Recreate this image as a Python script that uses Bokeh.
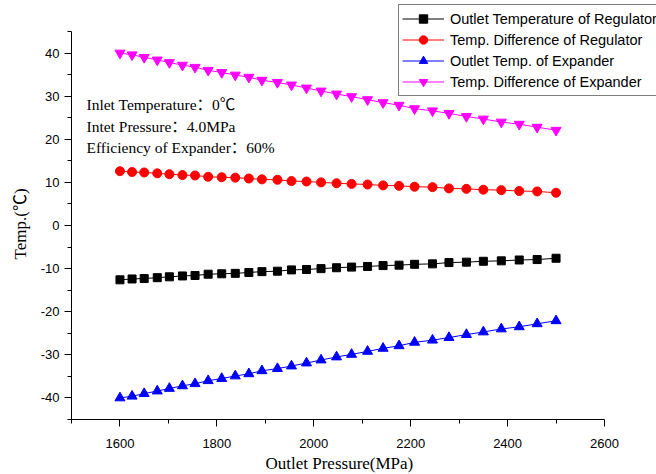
from bokeh.plotting import figure
from bokeh.models import Range1d, FixedTicker, Label, Legend, LegendItem, Title
from bokeh.embed import file_html
from bokeh.resources import INLINE

# ---- data ----
pressure = [1600, 1625, 1650, 1677, 1702, 1729, 1755, 1782, 1810, 1838,
            1866, 1893, 1925, 1954, 1985, 2015, 2047, 2078, 2111, 2143,
            2176, 2208, 2245, 2279, 2315, 2350, 2387, 2424, 2461, 2500]

outlet_temp_regulator = [-12.6, -12.4, -12.3, -12.1, -11.9, -11.7, -11.6, -11.3, -11.2, -11.1,
                         -10.9, -10.7, -10.6, -10.3, -10.2, -10.0, -9.8, -9.65, -9.5, -9.3,
                         -9.2, -9.0, -8.9, -8.6, -8.5, -8.3, -8.2, -8.0, -7.9, -7.6]

temp_diff_regulator = [12.6, 12.4, 12.3, 12.1, 11.9, 11.7, 11.6, 11.3, 11.2, 11.1,
                       10.9, 10.7, 10.6, 10.3, 10.2, 10.0, 9.8, 9.65, 9.5, 9.3,
                       9.2, 9.0, 8.9, 8.6, 8.5, 8.3, 8.2, 8.0, 7.9, 7.6]

outlet_temp_expander = [-40.0, -39.6, -39.0, -38.4, -37.8, -37.2, -36.7, -36.0, -35.5, -34.9,
                        -34.4, -33.7, -33.2, -32.6, -31.9, -31.2, -30.5, -29.9, -29.2, -28.5,
                        -27.9, -27.1, -26.6, -26.0, -25.3, -24.7, -24.0, -23.5, -22.8, -22.1]

temp_diff_expander = [40.0, 39.6, 39.0, 38.4, 37.8, 37.2, 36.7, 36.0, 35.5, 34.9,
                      34.4, 33.7, 33.2, 32.6, 31.9, 31.2, 30.5, 29.9, 29.2, 28.5,
                      27.9, 27.1, 26.6, 26.0, 25.3, 24.7, 24.0, 23.5, 22.8, 22.1]

series_names = ["Outlet Temperature of Regulator", "Temp. Difference of Regulator",
                "Outlet Temp. of Expander", "Temp. Difference of Expander"]

x_major = [1600, 1800, 2000, 2200, 2400, 2600]
x_minor = [1500, 1700, 1900, 2100, 2300, 2500]
y_major = [-40, -30, -20, -10, 0, 10, 20, 30, 40]
y_minor = [-45, -35, -25, -15, -5, 5, 15, 25, 35, 45]

notes = ["Inlet Temperature：0℃", "Intet Pressure：4.0MPa", "Efficiency of Expander：60%"]
x_title = "Outlet Pressure(MPa)"
y_title = "Temp.(℃)"

SERIF = "'Liberation Serif', 'Noto Sans CJK SC'"

# ---- figure ----
LEFT, BOTTOM = 71, 55
p = figure(width=656, height=474, output_backend="svg", toolbar_location=None,
           x_range=Range1d(1500, 2707.3), y_range=Range1d(-45, 52.19),
           min_border_left=LEFT, min_border_right=0, min_border_top=0,
           min_border_bottom=BOTTOM)
p.outline_line_color = None
p.xgrid.visible = False
p.ygrid.visible = False
p.background_fill_color = "white"
p.border_fill_color = "white"

for ax, maj, mn, bnds in ((p.xaxis[0], x_major, x_minor, (1500, 2600)),
                          (p.yaxis[0], y_major, y_minor, (-45, 45))):
    ax.ticker = FixedTicker(ticks=maj, minor_ticks=mn)
    ax.bounds = bnds
    ax.axis_line_color = "black"
    ax.axis_line_width = 1
    ax.major_tick_line_color = "black"
    ax.minor_tick_line_color = "black"
    ax.major_tick_in = 0
    ax.major_tick_out = 7
    ax.minor_tick_in = 0
    ax.minor_tick_out = 4
    ax.major_label_text_font = "Liberation Sans"
    ax.major_label_text_font_size = "13px"
    ax.major_label_text_color = "black"
    ax.major_label_overrides = {v: str(v) for v in maj}
p.xaxis.major_label_standoff = 12
p.yaxis.major_label_standoff = 5

specs = [
    (outlet_temp_regulator, "black", "square", 8),
    (temp_diff_regulator, "red", "circle", 9),
    (outlet_temp_expander, "blue", "triangle", 10),
    (temp_diff_expander, "magenta", "inverted_triangle", 10),
]
items = []
for (ys, col, mk, sz), name in zip(specs, series_names):
    lr = p.line(pressure, ys, line_color=col, line_width=1)
    sr = p.scatter(pressure, ys, marker=mk, size=sz, fill_color=col, line_color=col)
    items.append(LegendItem(label=name, renderers=[lr, sr]))

legend = Legend(items=items, location=(398 - LEFT, 419 - 96),
                border_line_color="black", border_line_width=1,
                background_fill_color="white", background_fill_alpha=1,
                label_text_font="Liberation Sans", label_text_font_size="14.5px",
                label_text_color="black", label_height=21, glyph_height=21,
                glyph_width=42, label_standoff=6, spacing=0, padding=3, margin=0)
p.add_layout(legend, "center")

# annotation notes
for i, t in enumerate(notes):
    p.add_layout(Label(x=86 - LEFT, y=419 - (104 + 21.7 * i), x_units="screen", y_units="screen",
                       text=t, text_font=SERIF, text_font_size="15.5px",
                       text_color="black", text_baseline="middle", text_align="left"))

# axis titles (as side-panel titles so they are not clipped)
xt = Title(text=x_title, align="left", offset=194, standoff=2,
           text_font="Liberation Serif", text_font_size="17px",
           text_font_style="normal", text_color="black")
p.add_layout(xt, "below")
yt = Title(text=y_title, align="left", offset=160, standoff=16,
           text_font=SERIF, text_font_size="17px",
           text_font_style="normal", text_color="black")
p.add_layout(yt, "left")

open("out.html", "w").write(file_html(p, INLINE))
